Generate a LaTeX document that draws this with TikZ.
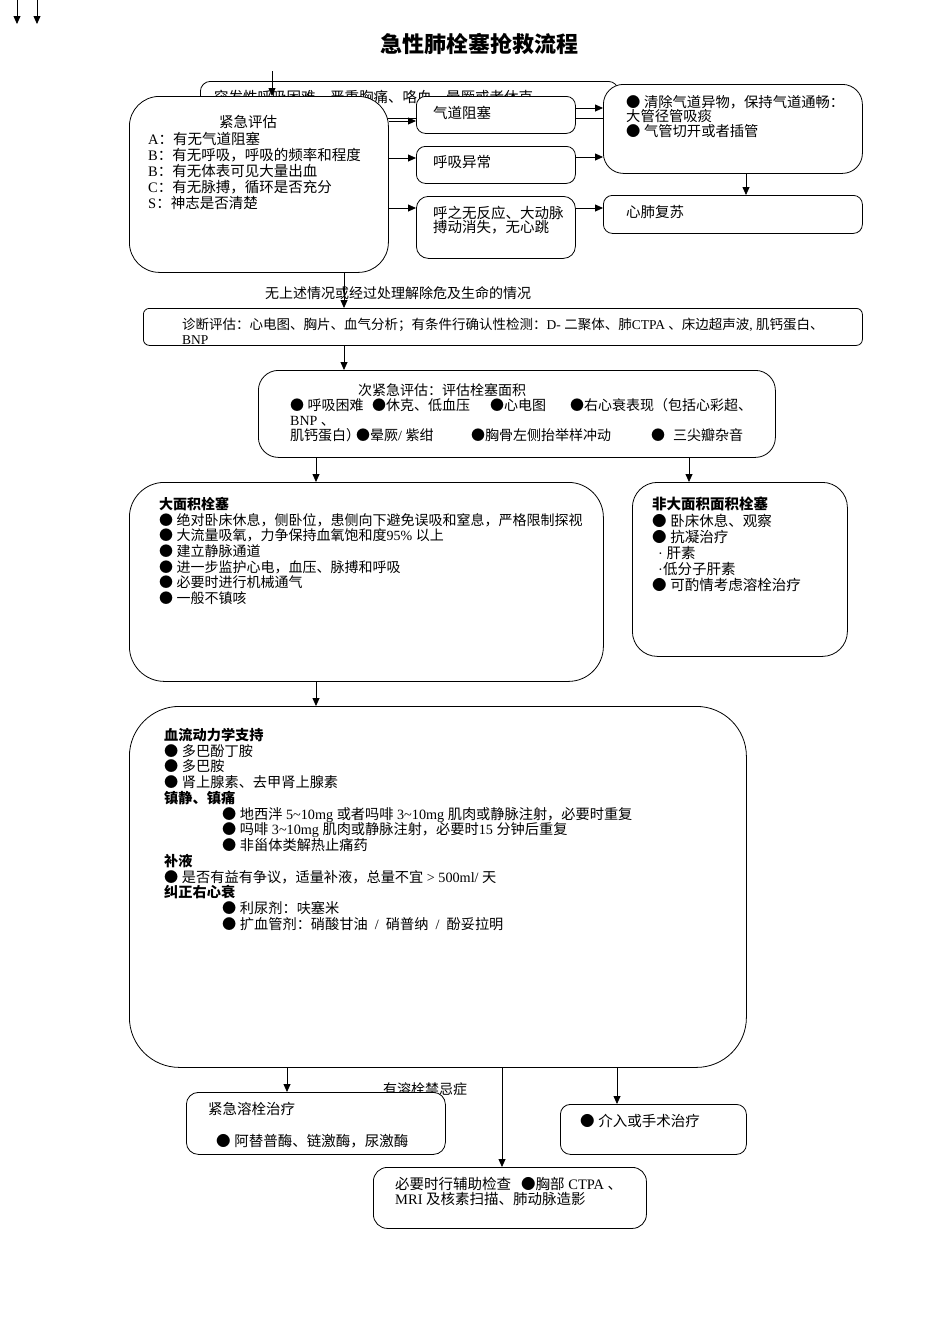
\documentclass[tikz,border=0pt]{standalone}
\usepackage{fontspec}
\setmainfont{Liberation Serif}
\newfontfamily\cjkfont{Noto Sans CJK SC}
\usetikzlibrary{arrows.meta}
\XeTeXinterchartokenstate=1
\newXeTeXintercharclass\cjkcls
\newcount\cjkcnt
\newcommand\setcjkrange[2]{\cjkcnt=#1\relax\loop\XeTeXcharclass\cjkcnt=\cjkcls\relax\ifnum\cjkcnt<#2\relax\advance\cjkcnt by 1\relax\repeat}
\setcjkrange{"3000}{"303F}
\setcjkrange{"4E00}{"9FFF}
\setcjkrange{"FF00}{"FFEF}
\XeTeXcharclass"25CF=\cjkcls
\XeTeXinterchartoks 0 \cjkcls={\cjkfont}
\XeTeXinterchartoks 4095 \cjkcls={\cjkfont}
\XeTeXinterchartoks \cjkcls 0={\rmfamily}
\XeTeXinterchartoks \cjkcls 4095={\rmfamily}
\newcommand\fsz[2]{\fontsize{#1}{#2}\selectfont}
\begin{document}
\begin{tikzpicture}[x=1pt,y=-1pt,
 box/.style={draw, line width=0.8pt, fill=white, inner sep=0pt, anchor=north west},
 txt/.style={inner sep=0pt, anchor=north west, align=left, font=\fsz{14.5}{16}},
 ln/.style={inner sep=0pt, anchor=west, font=\fsz{14.5}{16}},
 arr/.style={-{Triangle[length=8pt,width=7pt]}, line width=0.8pt}]
\fill[white] (0,0) rectangle (950,1344);
\useasboundingbox (0,0) rectangle (950,1344);

% helper coordinates
\coordinate (y108) at (0,108);
\coordinate (y121) at (0,121);
\coordinate (y157) at (0,157);
\coordinate (y158) at (0,158);
\coordinate (y208) at (0,208);
\coordinate (x287) at (287,0);
\coordinate (x316) at (316,0);
\coordinate (x344) at (344,0);
\coordinate (x502) at (502,0);
\coordinate (x617) at (617,0);
\coordinate (x689) at (689,0);
\coordinate (x746) at (746,0);

% title
\node[inner sep=0pt, font=\bfseries\fsz{22}{24}] (title) at (479,44) {急性肺栓塞抢救流程};

% background box (partly hidden)
\node[box, rounded corners=10pt, minimum width=418pt, minimum height=37pt] (bk) at (200,81) {};
\node[ln] (bkt) at (214,97) {突发性呼吸困难、严重胸痛、咯血、晕厥或者休克};
\node[ln, font=\fsz{14}{16}] (lab2) at (383,1089) {有溶栓禁忌症};

% first level
\node[box, rounded corners=30pt, minimum width=259pt, minimum height=176pt] (ev) at (129,96) {};
\node[ln, anchor=center] (evh) at (248,122) {紧急评估};
\node[txt] (evt) at (148,132) {A：有无气道阻塞\\B：有无呼吸，呼吸的频率和程度\\B：有无体表可见大量出血\\C：有无脉搏，循环是否充分\\S：神志是否清楚};

\node[box, rounded corners=9pt, minimum width=159pt, minimum height=37pt] (qd) at (416,96) {};
\node[ln] (qdt) at (433,113) {气道阻塞};
\node[box, rounded corners=9pt, minimum width=159pt, minimum height=37pt] (hx) at (416,146) {};
\node[ln] (hxt) at (433,162) {呼吸异常};
\node[box, rounded corners=12pt, minimum width=159pt, minimum height=62pt] (hz) at (416,196) {};
\node[txt, font=\fsz{14.5}{14}] (hzt) at (433,206) {呼之无反应、大动脉\\搏动消失，无心跳};

\node[box, rounded corners=20pt, minimum width=259pt, minimum height=89pt] (r1) at (603,84) {};
\node[txt, font=\fsz{14.3}{14.5}] (r1t) at (626,95) {● 清除气道异物，保持气道通畅：\\大管径管吸痰\\● 气管切开或者插管};
\node[box, rounded corners=9pt, minimum width=259pt, minimum height=38pt] (xf) at (603,195) {};
\node[ln] (xft) at (626,212) {心肺复苏};

\node[ln, font=\fsz{14}{16}] (lab1) at (265,293) {无上述情况或经过处理解除危及生命的情况};

\node[box, rounded corners=6pt, minimum width=719pt, minimum height=37pt] (dg) at (143,308) {};
\node[txt, font=\fsz{13.5}{15}] (dgt) at (182,318) {诊断评估：心电图、胸片、血气分析；有条件行确认性检测：D- 二聚体、肺CTPA 、床边超声波, 肌钙蛋白、\\BNP};

\node[box, rounded corners=20pt, minimum width=517pt, minimum height=87pt] (se) at (258,370) {};
\node[ln, font=\fsz{14}{15}] (seh) at (358,390) {次紧急评估：评估栓塞面积};
\node[txt, font=\fsz{14}{15}] (set) at (290,398.5) {\makebox[82pt][l]{● 呼吸困难}\makebox[118pt][l]{●休克、低血压}\makebox[80pt][l]{●心电图}●右心衰表现（包括心彩超、\\BNP 、\\\makebox[66pt][l]{肌钙蛋白）}\makebox[115pt][l]{●晕厥/ 紫绀}\makebox[180pt][l]{●胸骨左侧抬举样冲动}●\hspace{8pt}三尖瓣杂音};

\node[box, rounded corners=35pt, minimum width=474pt, minimum height=199pt] (big) at (129,482) {};
\node[txt, font=\fsz{14}{15.7}] (bigt) at (159,497) {\textbf{大面积栓塞}\\● 绝对卧床休息，侧卧位，患侧向下避免误吸和窒息，严格限制探视\\● 大流量吸氧，力争保持血氧饱和度95\% 以上\\● 建立静脉通道\\● 进一步监护心电，血压、脉搏和呼吸\\● 必要时进行机械通气\\● 一般不镇咳};

\node[box, rounded corners=25pt, minimum width=215pt, minimum height=174pt] (nb) at (632,482) {};
\node[txt, font=\fsz{14.5}{16.2}] (nbt) at (652,497) {\textbf{非大面积面积栓塞}\\● 卧床休息、观察\\● 抗凝治疗\\\hspace*{6pt}·\ 肝素\\\hspace*{6pt}·低分子肝素\\● 可酌情考虑溶栓治疗};

\node[box, rounded corners=50pt, minimum width=617pt, minimum height=361pt] (hd) at (129,706) {};
\node[txt, font=\fsz{14.2}{15.75}] (hdt) at (164,728) {\textbf{血流动力学支持}\\● 多巴酚丁胺\\● 多巴胺\\● 肾上腺素、去甲肾上腺素\\\textbf{镇静、镇痛}\\\hspace*{58pt}● 地西泮 5\textasciitilde10mg 或者吗啡 3\textasciitilde10mg 肌肉或静脉注射，必要时重复\\\hspace*{58pt}● 吗啡 3\textasciitilde10mg 肌肉或静脉注射，必要时15 分钟后重复\\\hspace*{58pt}● 非甾体类解热止痛药\\\textbf{补液}\\● 是否有益有争议，适量补液，总量不宜 > 500ml/ 天\\\textbf{纠正右心衰}\\\hspace*{58pt}● 利尿剂：呋塞米\\\hspace*{58pt}● 扩血管剂：硝酸甘油 \ / \ 硝普纳 \ / \ 酚妥拉明};

\node[box, rounded corners=12pt, minimum width=259pt, minimum height=62pt] (rs) at (186,1092) {};
\node[ln] (rst1) at (208,1109) {紧急溶栓治疗};
\node[ln] (rst2) at (216,1141) {● 阿替普酶、链激酶，尿激酶};
\node[box, rounded corners=10pt, minimum width=186pt, minimum height=50pt] (jr) at (560,1104) {};
\node[ln] (jrt) at (580,1121) {● 介入或手术治疗};
\node[box, rounded corners=14pt, minimum width=273pt, minimum height=61pt] (fz) at (373,1167) {};
\node[txt, font=\fsz{14.5}{15}] (fzt) at (395,1177) {必要时行辅助检查\hspace{10pt}●胸部 CTPA 、\\MRI 及核素扫描、肺动脉造影};

% connectors
\coordinate (s1) at (17,0); \coordinate (e1) at (17,24);
\coordinate (s2) at (37,0); \coordinate (e2) at (37,24);
\draw[arr] (s1) -- (e1);
\draw[arr] (s2) -- (e2);
\coordinate (s0) at (272,71);
\draw[arr] (s0) -- (s0 |- ev.north);
\draw[arr] (ev.east |- y121) -- (qd.west |- y121);
\draw[arr] (ev.east |- y158) -- (hx.west |- y158);
\draw[arr] (ev.east |- y208) -- (hz.west |- y208);
\draw[arr] (qd.east |- y108) -- (r1.west |- y108);
\draw[arr] (hx.east |- y157) -- (r1.west |- y157);
\draw[arr] (hz.east |- y208) -- (xf.west |- y208);
\draw[arr] (r1.south -| x746) -- (xf.north -| x746);
\draw[arr] (ev.south -| x344) -- (dg.north -| x344);
\draw[arr] (dg.south -| x344) -- (se.north -| x344);
\draw[arr] (se.south -| x316) -- (big.north -| x316);
\draw[arr] (se.south -| x689) -- (nb.north -| x689);
\draw[arr] (big.south -| x316) -- (hd.north -| x316);
\draw[arr] (hd.south -| x287) -- (rs.north -| x287);
\draw[arr] (hd.south -| x502) -- (fz.north -| x502);
\draw[arr] (hd.south -| x617) -- (jr.north -| x617);
\end{tikzpicture}
\end{document}
